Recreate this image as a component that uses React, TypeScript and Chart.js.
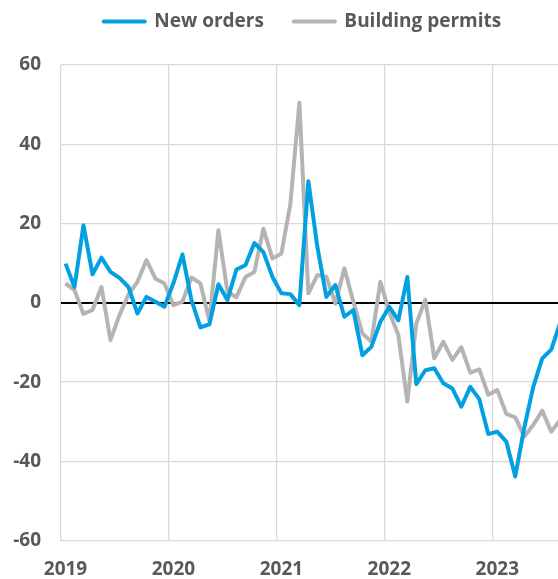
import React, { useEffect, useRef } from 'react';
import { Chart, registerables } from 'chart.js';

Chart.register(...registerables);

// ---- Data (monthly, Jan 2019 .. Aug 2023) ----
const startYear = 2019;
const yearTicks = [2019, 2020, 2021, 2022, 2023];

const newOrders = [
  9.9, 4.0, 19.6, 7.2, 11.4, 7.8, 6.3, 4.0, -2.7, 1.5, 0.3, -1.0,
  5.0, 12.2, 0.7, -6.2, -5.4, 4.7, 0.7, 8.4, 9.5, 15.1, 12.8, 6.6,
  2.4, 2.2, -0.6, 30.7, 14.1, 1.5, 4.5, -3.5, -1.8, -13.2, -11.1, -4.8,
  -1.0, -4.4, 6.5, -20.5, -17.0, -16.5, -20.3, -21.6, -26.2, -21.2, -24.3, -33.1,
  -32.5, -35.0, -43.8, -31.5, -21.2, -14.0, -11.8, -5.0,
];

const buildingPermits = [
  4.9, 3.2, -2.8, -1.8, 4.0, -9.4, -3.1, 2.1, 5.3, 10.8, 6.1, 4.9,
  -0.6, 0.3, 6.4, 4.9, -4.6, 18.3, 2.8, 1.4, 6.5, 7.8, 18.7, 11.2,
  12.4, 25.0, 50.5, 2.4, 7.0, 6.6, -0.2, 8.7, 0.3, -7.7, -9.8, 5.3,
  -2.3, -8.1, -24.9, -5.2, 0.8, -14.0, -9.8, -14.4, -11.2, -17.6, -16.8, -23.2,
  -22.0, -28.0, -28.9, -33.7, -30.8, -27.2, -32.5, -29.5,
];

const seriesLabels = ['New orders', 'Building permits'];
const seriesColors = ['#00a0e1', '#b4b4b4'];

const FONT = "'Open Sans', 'Noto Sans', sans-serif";
const TEXT = '#595959';

// monthly points sit in the middle of each month slot
const toPoints = (vals: number[]) => vals.map((v, i) => ({ x: i + 0.5, y: v }));

const legendGap = {
  id: 'legendGap',
  beforeInit(chart: any) {
    const legend = chart.legend;
    if (!legend || legend.__patched) return;
    const orig = legend.fit;
    legend.fit = function (this: any) {
      orig.call(this);
      this.height += 24;
    };
    legend.__patched = true;
  },
  afterLayout(chart: any) {
    const legend = chart.legend;
    if (!legend) return;
    legend.left -= 7;
    legend.right -= 7;
  },
};

export default function App() {
  const canvasRef = useRef<HTMLCanvasElement | null>(null);

  useEffect(() => {
    const canvas = canvasRef.current;
    if (!canvas) return;
    const chart = new Chart(canvas, {
      type: 'line',
      data: {
        datasets: [
          {
            label: seriesLabels[0],
            data: toPoints(newOrders),
            borderColor: seriesColors[0],
            backgroundColor: seriesColors[0],
            borderWidth: 4,
            pointRadius: 0,
            tension: 0,
            borderJoinStyle: 'round',
          },
          {
            label: seriesLabels[1],
            data: toPoints(buildingPermits),
            borderColor: seriesColors[1],
            backgroundColor: seriesColors[1],
            borderWidth: 4,
            pointRadius: 0,
            tension: 0,
            borderJoinStyle: 'round',
          },
        ],
      },
      options: {
        animation: false,
        responsive: false,
        layout: { padding: { top: -18, left: 0, right: 0, bottom: 0 } },
        plugins: {
          tooltip: { enabled: false },
          legend: {
            position: 'top',
            align: 'center',
            fullSize: false,
            labels: {
              usePointStyle: true,
              pointStyleWidth: 41,
              padding: 30,
              color: TEXT,
              font: { family: FONT, size: 19, weight: 'bold' },
              generateLabels: (ch: any) =>
                ch.data.datasets.map((ds: any, i: number) => ({
                  text: ds.label,
                  fillStyle: ds.borderColor,
                  strokeStyle: ds.borderColor,
                  lineWidth: 4,
                  lineCap: 'round',
                  pointStyle: 'line',
                  hidden: false,
                  fontColor: TEXT,
                  datasetIndex: i,
                })),
            },
          },
        },
        scales: {
          x: {
            type: 'linear',
            bounds: 'data',
            min: 0,
            max: 55.25,
            afterBuildTicks: (axis: any) => {
              axis.ticks = yearTicks.map((y) => ({ value: (y - startYear) * 12 }));
            },
            afterFit: (s: any) => {
              s.height = 38.3;
            },
            grid: { color: '#d9d9d9', lineWidth: 1.3, drawTicks: false },
            border: { display: false },
            ticks: {
              padding: 17,
              labelOffset: 4.5,
              maxRotation: 0,
              autoSkip: false,
              color: TEXT,
              font: { family: FONT, size: 19, weight: 'bold' },
              callback: (v: any) => String(startYear + Number(v) / 12),
            },
          },
          y: {
            min: -60,
            max: 60,
            afterFit: (s: any) => {
              s.width = 61;
            },
            grid: {
              color: (c: any) => (c.tick && c.tick.value === 0 ? '#000000' : '#d9d9d9'),
              lineWidth: (c: any) => (c.tick && c.tick.value === 0 ? 2 : 1.3),
              drawTicks: false,
            },
            border: { display: false },
            ticks: {
              stepSize: 20,
              padding: 20,
              color: TEXT,
              font: { family: FONT, size: 19, weight: 'bold' },
            },
          },
        },
      },
      plugins: [legendGap],
    } as any);
    return () => chart.destroy();
  }, []);

  return (
    <div style={{ position: 'absolute', left: 0, top: 0, width: 558, height: 579 }}>
      <canvas ref={canvasRef} width={558} height={579} />
    </div>
  );
}
